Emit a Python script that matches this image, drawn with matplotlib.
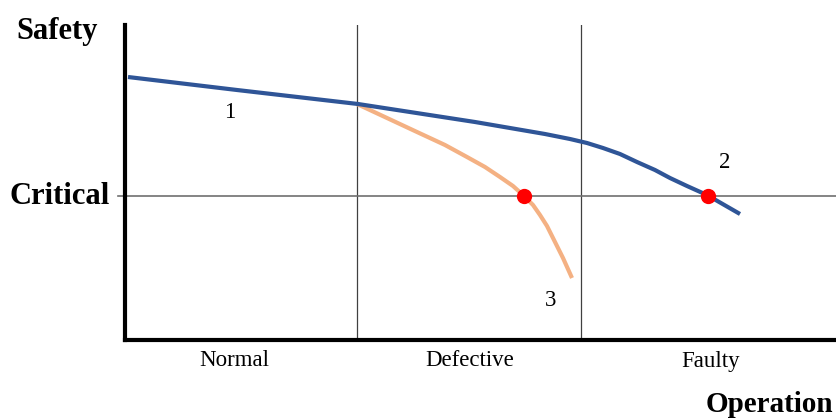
import matplotlib
matplotlib.use("Agg")
from matplotlib import pyplot as plt

plt.rcParams['font.family'] = ['Liberation Serif', 'DejaVu Serif']

# operation stages (region boundaries on the x axis)
stages = ['Normal', 'Defective', 'Faulty']
stage_edges = [2.32, 4.56]
stage_centers = [1.09, 3.45, 5.86]
critical = 1.44

# curve 1/2 : normal degradation
curve1_x = [0.03, 1.12, 2.33, 3.50, 4.20, 4.45, 4.62, 4.78, 4.95, 5.12, 5.30, 5.45, 5.62, 5.82, 6.15]
curve1_y = [2.63, 2.50, 2.36, 2.18, 2.06, 2.01, 1.97, 1.92, 1.86, 1.78, 1.70, 1.62, 1.54, 1.45, 1.26]

# curve 3 : accelerated degradation
curve3_x = [2.32, 2.62, 2.92, 3.20, 3.42, 3.60, 3.75, 3.88, 3.98, 4.08, 4.15, 4.22, 4.28, 4.38, 4.47]
curve3_y = [2.36, 2.22, 2.08, 1.95, 1.83, 1.73, 1.63, 1.54, 1.45, 1.35, 1.25, 1.14, 1.02, 0.82, 0.62]

# points where the curves reach the critical level
cross_x = [3.99, 5.83]
cross_y = [critical, critical]

labels = ['1', '2', '3']
label_x = [1.05, 6.00, 4.26]
label_y = [2.28, 1.77, 0.40]

fig = plt.figure(figsize=(8.37, 4.2), dpi=100)
ax = fig.add_axes([125 / 837, 80 / 420, 712 / 837, 315 / 420])
ax.set_xlim(0, 7.12)
ax.set_ylim(0, 3.15)

for s in ['top', 'right']:
    ax.spines[s].set_visible(False)
ax.spines['left'].set_linewidth(3)
ax.spines['bottom'].set_linewidth(3)
ax.set_xticks([])
ax.set_yticks([])

for e in stage_edges:
    ax.axvline(e, color='#404040', lw=0.9, zorder=1)
ax.plot([-0.07, 7.12], [critical, critical], color='#707070', lw=1.2,
        clip_on=False, zorder=1)

ax.plot(curve1_x, curve1_y, color='#2f5597', lw=3, solid_capstyle='butt', zorder=3)
ax.plot(curve3_x, curve3_y, color='#f4b183', lw=3, solid_capstyle='butt', zorder=2)
ax.plot(cross_x, cross_y, 'o', color='#ff0000', ms=11, mec='none', zorder=4)

for t, x, y in zip(labels, label_x, label_y):
    ax.text(x, y, t, fontsize=16.5, ha='center', va='center')

for t, x in zip(stages, stage_centers):
    ax.text(x, -0.21, t, fontsize=16.5, ha='center', va='center', clip_on=False)

ax.text(-0.68, 3.08, 'Safety', fontsize=22, fontweight='bold',
        ha='center', va='center', clip_on=False)
ax.text(-0.65, critical, 'Critical', fontsize=22, fontweight='bold',
        ha='center', va='center', clip_on=False)
# pulled in a little so the whole word stays on the canvas
ax.text(7.08, -0.65, 'Operation', fontsize=21, fontweight='bold',
        ha='right', va='center', clip_on=False)

fig.savefig('out.png', dpi=100)
